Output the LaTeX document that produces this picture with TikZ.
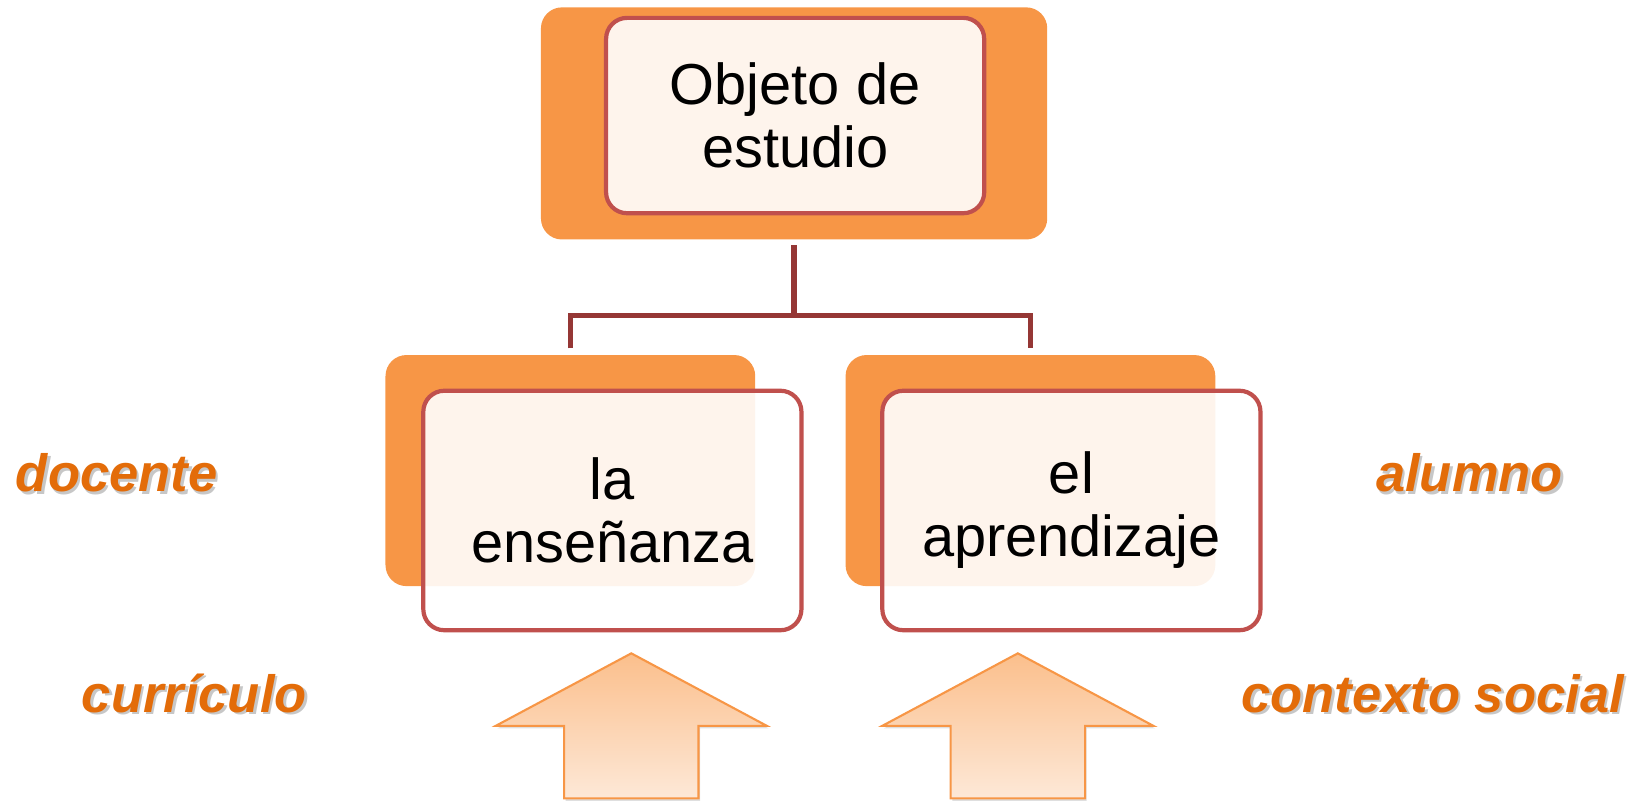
\documentclass[tikz,border=0pt]{standalone}
\usepackage{fontspec}
\setmainfont{Liberation Sans}
\usetikzlibrary{positioning, shadows}

\definecolor{accent}{HTML}{F79646}
\definecolor{boxred}{HTML}{C0504D}
\definecolor{linkred}{HTML}{953735}
\definecolor{labelorange}{HTML}{E36C09}
\definecolor{arrowtop}{HTML}{FBBF8C}
\definecolor{arrowbottom}{HTML}{FDE8D7}

\newcommand{\shtext}[1]{\rlap{\kern1.2pt\raisebox{-1.2pt}{\textcolor{black!22}{#1}}}#1}

\begin{document}
\begin{tikzpicture}[x=0.5pt, y=-0.5pt,
    backbox/.style={fill=accent, rounded corners=10pt, inner sep=0pt},
    topic/.style={draw=boxred, line width=2pt, fill=white, fill opacity=0.9, text opacity=1,
        rounded corners=10pt, align=center, font=\fontsize{27.5}{30}\selectfont},
    link/.style={draw=linkred, line width=2.5pt},
    side/.style={text=labelorange, anchor=base, font=\fontsize{25}{30}\selectfont\bfseries\itshape},
    push/.style={draw=accent, line width=1pt, top color=arrowtop, bottom color=arrowbottom,
        drop shadow={opacity=0.25, shadow xshift=0.8pt, shadow yshift=-1.2pt}}]
    \useasboundingbox (0,0) rectangle (1568,765.5);

    % objeto de estudio
    \node[backbox, minimum width=241pt, minimum height=110.5pt] (objback) at (756,117.5) {};
    \node[topic, minimum width=180pt, minimum height=93pt] (obj) at (757,110) {Objeto de\\estudio};

    % ensenanza / aprendizaje
    \node[backbox, minimum width=176pt, minimum height=110pt] (ensback) at (543,448) {};
    \node[topic, minimum width=180pt, minimum height=114pt] (ens) at (583,486) {la\\enseñanza};
    \node[backbox, minimum width=176pt, minimum height=110pt] (aprback) at (981,448) {};
    \node[topic, minimum width=180pt, minimum height=114pt] (apr) at (1020,486) {el\\aprendizaje};

    \draw[link] ([yshift=-2.5pt]objback.south) -- ++(0,67) coordinate (fork);
    \draw[link] ([yshift=3pt]ensback.north) |- (fork) -| ([yshift=3pt]aprback.north);

    % side labels
    \node[side] (docente) at (111,468) {\shtext{docente}};
    \node[side] (alumno) at (1399,468) {\shtext{alumno}};
    \node[side] (curriculo) at (185,678) {\shtext{currículo}};
    \node[side] (contexto) at (1364,678) {\shtext{contexto social}};

    % arrows
    \draw[push] (601,622) coordinate (enstip) -- ++(129,69) -- ++(-65,0) -- ++(0,69)
        -- ++(-128,0) -- ++(0,-69) -- ++(-65,0) -- cycle;
    \draw[push] (969,622) coordinate (aprtip) -- ++(129,69) -- ++(-65,0) -- ++(0,69)
        -- ++(-128,0) -- ++(0,-69) -- ++(-65,0) -- cycle;
\end{tikzpicture}
\end{document}
